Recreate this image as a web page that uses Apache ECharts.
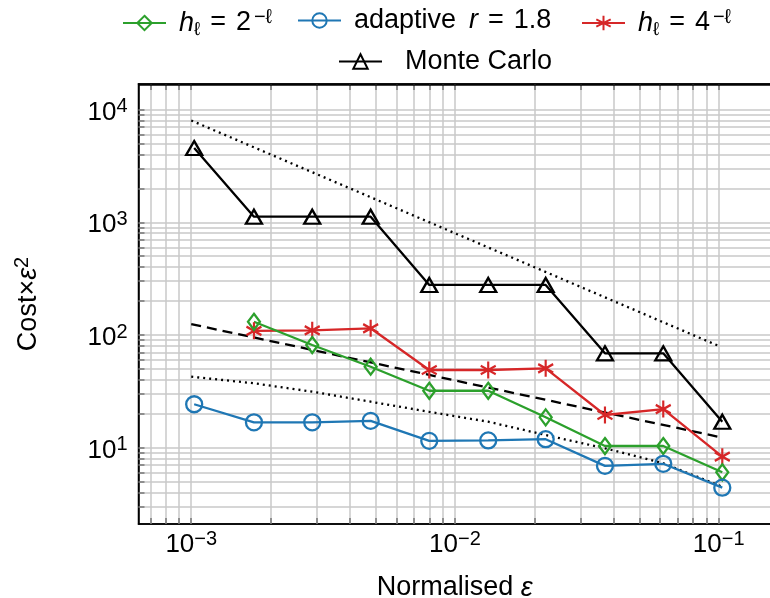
<!DOCTYPE html>
<html>
<head>
<meta charset="utf-8">
<script src="https://cdn.jsdelivr.net/npm/echarts@6/dist/echarts.min.js"></script>
<style>
html, body { margin: 0; padding: 0; background: #fff; }
#main { width: 770px; height: 598px; }
</style>
</head>
<body>
<div id="main"></div>
<script>
// normalised epsilon of each run
const eps = [1.026e-3, 1.729e-3, 2.876e-3, 4.79e-3, 7.99e-3, 1.337e-2, 2.208e-2, 3.705e-2, 6.164e-2, 0.1032];
// cost x eps^2
const mcCost = [4560, 1121, 1121, 1121, 278, 278, 278, 68.8, 68.8, 17.0];
const adaptiveCost = [24.3, 16.8, 16.8, 17.3, 11.5, 11.6, 11.9, 6.9, 7.2, 4.42];
const h2Cost = [131, 81.5, 52.3, 32.0, 32.0, 18.6, 10.35, 10.35, 6.05];   // starts at eps[1]
const h4Cost = [109, 110, 114.7, 48.9, 48.9, 50.6, 19.5, 22.0, 8.32];     // starts at eps[1]

// reference lines
const refX = [0.001, 0.1];
const refSlopeOne = [8000, 80];
const refSlopeHalf = [125, 12.5];
const refLogX = [0.001, 1.729e-3, 2.876e-3, 4.79e-3, 7.99e-3, 1.337e-2, 2.208e-2, 3.705e-2, 6.164e-2, 0.1032];
const refLogY = [42.7, 37.3, 31.4, 25.6, 20.8, 17.0, 12.96, 9.88, 7.27, 4.51];

// axis ranges, ticks / grid
const xMin = 6.31e-4, xMax = 0.1579;
const yMin = 2.104, yMax = 16870;
const xMajor = [1e-3, 1e-2, 1e-1];
const xMinor = [7e-4, 8e-4, 9e-4, 2e-3, 3e-3, 4e-3, 5e-3, 6e-3, 7e-3, 8e-3, 9e-3,
  2e-2, 3e-2, 4e-2, 5e-2, 6e-2, 7e-2, 8e-2, 9e-2];
const yMajor = [10, 100, 1000, 10000];
const yMinor = [3, 4, 5, 6, 7, 8, 9, 20, 30, 40, 50, 60, 70, 80, 90,
  200, 300, 400, 500, 600, 700, 800, 900, 2000, 3000, 4000, 5000, 6000, 7000, 8000, 9000];

const FONT = 'Liberation Sans';
const green = '#2ca02c', blue = '#1f77b4', red = '#d62728';
const starPath = 'path://M0,-1L0,1M-0.866,-0.5L0.866,0.5M-0.866,0.5L0.866,-0.5';

const pairs = (xs, ys) => ys.map((y, i) => [xs[i], y]);

function powLabel(v) {
  const e = Math.round(Math.log10(v));
  return '{b|10}{s|' + (e < 0 ? '\u2212' + (-e) : e) + '}';
}

const rich = {
  b: { fontFamily: FONT, fontSize: 26, lineHeight: 32, color: '#000' },
  t: { fontFamily: FONT, fontSize: 27, lineHeight: 32, color: '#000' },
  it: { fontFamily: FONT, fontSize: 27, lineHeight: 32, fontStyle: 'italic', color: '#000' },
  s: { fontFamily: FONT, fontSize: 20, lineHeight: 15, verticalAlign: 'top', color: '#000' },
  sub: { fontFamily: FONT, fontSize: 19, lineHeight: 13, verticalAlign: 'bottom', color: '#000' },
  gap: { width: 8 },
  sp: { width: 10 },
  sp2: { width: 13 },
  s1: { width: 3 }
};

const legendText = {
  h2: '{gap|}{it|h}{sub|\u2113}{sp|}{t|=}{sp|}{t|2}{s1|}{s|\u2212\u2113}',
  adaptive: '{gap|}{t|adaptive}{sp2|}{it|r}{sp|}{t|=}{sp|}{t|1.8}',
  h4: '{gap|}{it|h}{sub|\u2113}{sp|}{t|=}{sp|}{t|4}{s1|}{s|\u2212\u2113}',
  mc: '{gap|}{sp|}{t|Monte Carlo}'
};

function legendFor(name, left, top) {
  return {
    data: [name],
    left: left,
    top: top,
    itemWidth: 43,
    itemHeight: 18,
    padding: 0,
    selectedMode: false,
    formatter: n => legendText[n],
    textStyle: { rich: rich }
  };
}

function markerSeries(name, data, color, symbol, size) {
  return {
    name: name,
    type: 'line',
    data: data,
    symbol: symbol,
    symbolSize: size,
    showAllSymbol: true,
    z: 5,
    lineStyle: { color: color, width: 2.3 },
    itemStyle: { color: 'transparent', borderColor: color, borderWidth: 2.3 },
    emphasis: { disabled: true }
  };
}

function refSeries(data, dash) {
  return {
    type: 'line',
    data: data,
    symbol: 'none',
    silent: true,
    z: 4,
    lineStyle: { color: '#000', width: 2.3, type: dash }
  };
}

const gridStyle = { show: true, lineStyle: { color: '#c8c8c8', width: 1.5, type: 'solid' } };
const tickStyle = { color: '#777', width: 1.5 };

// top frame line of the plot box (just inside the max so it is not filtered out)
const frameTop = {
  type: 'line',
  data: [],
  silent: true,
  z: 6,
  markLine: {
    silent: true,
    symbol: ['none', 'none'],
    label: { show: false },
    animation: false,
    lineStyle: { color: '#000', width: 1.6, type: 'solid' },
    data: [{ yAxis: yMax * 0.99 }]
  }
};

const option = {
  animation: false,
  backgroundColor: '#fff',
  grid: { left: 138.5, top: 84, right: -1, bottom: 74, outerBoundsMode: 'none',
    show: true, borderColor: '#000', borderWidth: 1.5 },
  legend: [
    legendFor('h2', 122, 7),
    legendFor('adaptive', 297, 7),
    legendFor('h4', 581, 7),
    legendFor('mc', 338, 48)
  ],
  xAxis: [
    {
      type: 'log',
      logBase: 10,
      min: xMin,
      max: xMax,
      position: 'bottom',
      splitLine: gridStyle,
      axisLine: { show: true, onZero: false, lineStyle: { color: '#000', width: 1.5 } },
      axisTick: { show: true, inside: true, length: 6, customValues: xMajor.concat(xMinor), lineStyle: tickStyle },
      axisLabel: { margin: 5, customValues: xMajor, formatter: powLabel, rich: rich },
      name: '{t|Normalised }{it|\u03b5}',
      nameLocation: 'middle',
      nameGap: 48,
      nameTextStyle: { rich: rich }
    },
    {
      type: 'log',
      logBase: 10,
      min: xMin,
      max: xMax,
      position: 'top',
      splitLine: { show: false },
      axisLine: { show: true, onZero: false, lineStyle: { color: '#000', width: 1.6 } },
      axisTick: { show: true, inside: true, length: 6, customValues: xMajor.concat(xMinor), lineStyle: tickStyle },
      axisLabel: { show: false }
    }
  ],
  yAxis: {
    type: 'log',
    logBase: 10,
    min: yMin,
    max: yMax,
    splitLine: gridStyle,
    axisLine: { show: true, onZero: false, lineStyle: { color: '#000', width: 1.5 } },
    axisTick: { show: true, inside: true, length: 6, customValues: yMajor.concat(yMinor), lineStyle: tickStyle },
    axisLabel: { margin: 11, customValues: yMajor, formatter: powLabel, rich: rich, padding: [6, 0, 0, 0] },
    name: '{t|Cost\u00d7}{it|\u03b5}{s|2}',
    nameLocation: 'middle',
    nameRotate: 90,
    nameGap: 94,
    nameTextStyle: { rich: rich }
  },
  series: [
    frameTop,
    refSeries(pairs(refX, refSlopeOne), [2, 4]),
    refSeries(pairs(refX, refSlopeHalf), [10, 6]),
    refSeries(pairs(refLogX, refLogY), [2, 4]),
    markerSeries('mc', pairs(eps, mcCost), '#000', 'triangle', [16, 14]),
    markerSeries('h4', pairs(eps.slice(1), h4Cost), red, starPath, [15, 17]),
    markerSeries('h2', pairs(eps.slice(1), h2Cost), green, 'diamond', [12, 16]),
    markerSeries('adaptive', pairs(eps, adaptiveCost), blue, 'circle', 16)
  ]
};

const chart = echarts.init(document.getElementById('main'));
chart.setOption(option);
</script>
</body>
</html>
